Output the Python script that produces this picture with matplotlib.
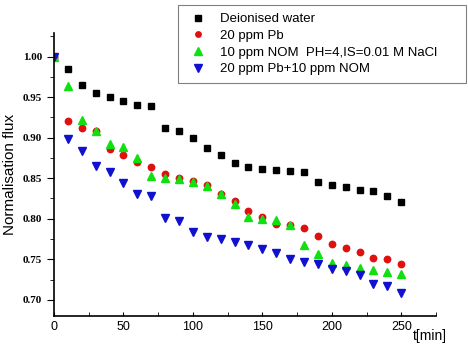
import matplotlib.pyplot as plt
from matplotlib.ticker import MultipleLocator

t = [0, 10, 20, 30, 40, 50, 60, 70, 80, 90, 100, 110, 120, 130, 140, 150,
     160, 170, 180, 190, 200, 210, 220, 230, 240, 250]

water = [1.000, 0.985, 0.965, 0.955, 0.950, 0.945, 0.940, 0.939, 0.912, 0.908,
         0.899, 0.887, 0.878, 0.869, 0.864, 0.861, 0.860, 0.859, 0.858, 0.845,
         0.841, 0.839, 0.835, 0.834, 0.828, 0.820]
pb = [1.000, 0.921, 0.912, 0.908, 0.886, 0.879, 0.870, 0.864, 0.855, 0.850,
      0.846, 0.842, 0.830, 0.822, 0.809, 0.802, 0.794, 0.792, 0.788, 0.779,
      0.769, 0.764, 0.759, 0.752, 0.750, 0.744]
nom = [1.000, 0.964, 0.922, 0.908, 0.892, 0.889, 0.875, 0.853, 0.850, 0.849,
       0.845, 0.840, 0.830, 0.818, 0.802, 0.800, 0.798, 0.792, 0.767, 0.756,
       0.745, 0.743, 0.739, 0.737, 0.734, 0.732]
pb_nom = [1.000, 0.898, 0.883, 0.865, 0.858, 0.844, 0.831, 0.828, 0.801, 0.797,
          0.783, 0.778, 0.775, 0.771, 0.768, 0.763, 0.758, 0.750, 0.746, 0.744,
          0.738, 0.735, 0.731, 0.720, 0.717, 0.708]

labels = ["Deionised water", "20 ppm Pb",
          "10 ppm NOM  PH=4,IS=0.01 M NaCl", "20 ppm Pb+10 ppm NOM"]

fig = plt.figure(figsize=(4.68, 3.5), dpi=100)
ax = fig.add_axes([0.1154, 0.0971, 0.8162, 0.8086])

ax.plot(t, water, "s", color="black", ms=4.3, label=labels[0])
ax.plot(t, pb, "o", color="#e01010", ms=4.6, label=labels[1])
ax.plot(t, nom, "^", color="#10e010", ms=6, label=labels[2])
ax.plot(t, pb_nom, "v", color="#1010d0", ms=6, label=labels[3])

ax.set_xlim(0, 275)
ax.set_ylim(0.68, 1.029)
ax.spines["top"].set_visible(False)
ax.spines["right"].set_visible(False)
ax.spines["left"].set_linewidth(1.2)
ax.spines["bottom"].set_linewidth(1.2)

ax.xaxis.set_major_locator(MultipleLocator(50))
ax.xaxis.set_minor_locator(MultipleLocator(25))
ax.yaxis.set_major_locator(MultipleLocator(0.05))
ax.yaxis.set_minor_locator(MultipleLocator(0.025))
ax.set_yticks([0.70, 0.75, 0.80, 0.85, 0.90, 0.95, 1.00])
ax.tick_params(axis="x", which="both", direction="in", length=3, labelsize=9)
ax.tick_params(axis="y", which="major", direction="out", length=5)
ax.tick_params(axis="y", which="minor", direction="out", length=3)
for lab in ax.get_xticklabels():
    lab.set_family("Liberation Sans")
for lab in ax.get_yticklabels():
    lab.set_family("Liberation Serif")
    lab.set_fontweight("bold")
    lab.set_fontsize(8)

ax.set_ylabel("Normalisation flux", family="Liberation Sans", fontsize=11)
fig.text(0.955, 0.02, "t[min]", family="Liberation Sans", fontsize=10,
         ha="right", va="bottom")

leg = ax.legend(loc="upper left",
                bbox_to_anchor=(178 / 468, 1 - 82 / 350, 288 / 468, 77 / 350),
                bbox_transform=fig.transFigure, mode="expand",
                borderaxespad=0,
                prop={"family": "Liberation Sans", "size": 9.5},
                fancybox=False, framealpha=1, edgecolor="#808080",
                handlelength=1.8, handletextpad=0.77, labelspacing=0.34,
                borderpad=0.6, markerscale=0.85)
leg.get_frame().set_linewidth(0.8)

fig.savefig("out.png")
